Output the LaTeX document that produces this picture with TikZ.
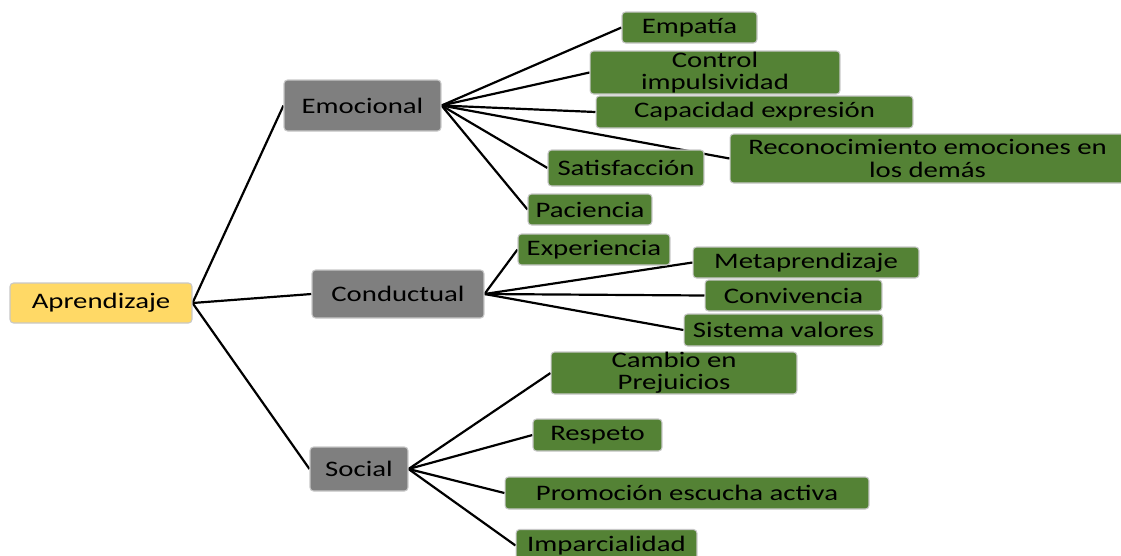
\documentclass[tikz,border=0pt]{standalone}
\usepackage{fontspec}
\setmainfont[FakeStretch=1.3]{Carlito}
\usetikzlibrary{backgrounds}
\definecolor{amarillo}{HTML}{FFD966}
\definecolor{gris}{HTML}{7F7F7F}
\definecolor{verde}{HTML}{548235}
\definecolor{borde}{HTML}{C8C8C8}

\begin{document}
\begin{tikzpicture}[x=0.02cm, y=-0.02cm,
  caja/.style = {draw=borde, line width=0.6pt, rounded corners=2pt,
    inner sep=0pt, align=center, text=black,
    font=\fontsize{12.6}{12.6}\selectfont},
  raiz/.style = {caja, fill=amarillo},
  rama/.style = {caja, fill=gris},
  hoja/.style = {caja, fill=verde},
  enlace/.style = {line width=1.25pt, black}]
  \useasboundingbox (0,0) rectangle (1121,555);
  % 根与分支
  \node[raiz, minimum width=3.64cm, minimum height=0.8cm] (aprendizaje) at (101,303) {Aprendizaje};
  \node[rama, minimum width=3.14cm, minimum height=1.02cm] (emocional) at (362.5,105.5) {Emocional};
  \node[rama, minimum width=3.44cm, minimum height=0.96cm] (conductual) at (398,294) {Conductual};
  \node[rama, minimum width=1.96cm, minimum height=0.88cm] (social) at (359,469) {Social};
  % Emocional 的叶子
  \node[hoja, minimum width=2.7cm, minimum height=0.62cm] (empatia) at (689.5,27.5) {Empatía};
  \node[hoja, minimum width=5.0cm, minimum height=0.86cm] (control) at (715,72.5) {Control\\impulsividad};
  \node[hoja, minimum width=6.34cm, minimum height=0.64cm] (capacidad) at (754.5,112) {Capacidad expresión};
  \node[hoja, minimum width=7.9cm, minimum height=0.98cm] (reconocimiento) at (927.5,158.5) {Reconocimiento emociones en\\los demás};
  \node[hoja, minimum width=3.12cm, minimum height=0.72cm] (satisfaccion) at (626,168) {Satisfacción};
  \node[hoja, minimum width=2.48cm, minimum height=0.62cm] (paciencia) at (590,209.5) {Paciencia};
  % Conductual 的叶子
  \node[hoja, minimum width=3.04cm, minimum height=0.62cm] (experiencia) at (594,249.5) {Experiencia};
  \node[hoja, minimum width=4.52cm, minimum height=0.62cm] (metaprendizaje) at (806,262.5) {Metaprendizaje};
  \node[hoja, minimum width=3.54cm, minimum height=0.62cm] (convivencia) at (793.5,295.5) {Convivencia};
  \node[hoja, minimum width=3.98cm, minimum height=0.64cm] (sistema) at (783.5,330) {Sistema valores};
  % Social 的叶子
  \node[hoja, minimum width=4.92cm, minimum height=0.84cm] (cambio) at (674,373) {Cambio en\\Prejuicios};
  \node[hoja, minimum width=2.58cm, minimum height=0.64cm] (respeto) at (597.5,435) {Respeto};
  \node[hoja, minimum width=7.28cm, minimum height=0.64cm] (promocion) at (687,493) {Promoción escucha activa};
  \node[hoja, minimum width=3.62cm, minimum height=0.64cm] (imparcialidad) at (606.5,545.5) {Imparcialidad};
  % 绘制连线
  \begin{scope}[on background layer]
    \foreach \h in {emocional, conductual, social}
      \draw[enlace] (aprendizaje.east) -- (\h.west);
    \foreach \h in {empatia, control, capacidad, reconocimiento, satisfaccion, paciencia}
      \draw[enlace] (emocional.east) -- (\h.west);
    \foreach \h in {experiencia, metaprendizaje, convivencia, sistema}
      \draw[enlace] (conductual.east) -- (\h.west);
    \foreach \h in {cambio, respeto, promocion, imparcialidad}
      \draw[enlace] (social.east) -- (\h.west);
  \end{scope}
\end{tikzpicture}
\end{document}
